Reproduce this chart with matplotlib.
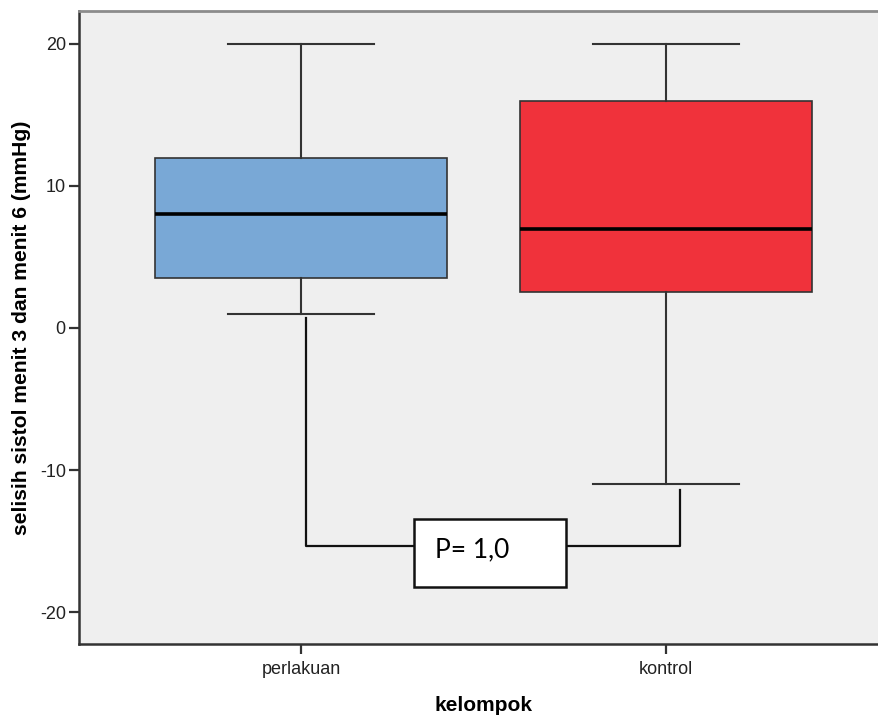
import matplotlib.pyplot as plt
from matplotlib.patches import Rectangle

# five-number summaries per group (mmHg)
groups = ['perlakuan', 'kontrol']
whis_low = [1, -11]
q1 = [3.5, 2.5]
median = [8, 7]
q3 = [12, 16]
whis_high = [20, 20]
colors = ['#79A8D6', '#F0323B']
p_text = 'P= 1,0'

stats = []
for i, g in enumerate(groups):
    stats.append({'label': g, 'whislo': whis_low[i], 'q1': q1[i], 'med': median[i],
                  'q3': q3[i], 'whishi': whis_high[i], 'fliers': []})

plt.rcParams['font.family'] = 'Liberation Sans'
plt.rcParams['axes.unicode_minus'] = False
fig = plt.figure(figsize=(8.79, 7.2), dpi=100)
# the right edge of the frame runs past the figure
ax = fig.add_axes([0.0899, 0.1056, 0.9204, 0.8791])
ax.set_facecolor('#EFEFEF')

pos = [1, 2]
bp = ax.bxp(stats, positions=pos, widths=0.8, capwidths=0.4, patch_artist=True,
            showfliers=False,
            boxprops=dict(edgecolor='#333333', linewidth=1.2),
            medianprops=dict(color='black', linewidth=2.6),
            whiskerprops=dict(color='#333333', linewidth=1.5),
            capprops=dict(color='#333333', linewidth=1.5))
for patch, c in zip(bp['boxes'], colors):
    patch.set_facecolor(c)

ax.set_xlim(0.392, 2.608)
ax.set_ylim(-22.25, 22.32)
ax.set_yticks([-20, -10, 0, 10, 20])
ax.set_xticks(pos)
ax.set_xticklabels(groups)
ax.tick_params(axis='both', labelsize=13, colors='#333333', labelcolor='#222222',
               length=7.5, width=1.6, direction='out')
ax.tick_params(axis='x', pad=5)
ax.tick_params(axis='y', pad=2)

for side in ['left', 'bottom']:
    ax.spines[side].set_color('#333333')
    ax.spines[side].set_linewidth(1.8)
ax.spines['top'].set_color('#8C8C8C')
ax.spines['top'].set_linewidth(2)
ax.spines['right'].set_visible(False)

ax.set_ylabel('selisih sistol menit 3 dan menit 6 (mmHg)', fontsize=15.2,
              fontweight='bold', labelpad=6)
ax.set_xlabel('kelompok', fontsize=15, fontweight='bold', labelpad=13)

# comparison bracket between the two groups
bracket_y = -15.35
lx = pos[0] + 0.014
rx = pos[1] + 0.038
ax.plot([lx, lx, rx, rx], [whis_low[0] - 0.3, bracket_y, bracket_y, whis_low[1] - 0.4],
        color='#111111', linewidth=1.6)
ax.add_patch(Rectangle((1.310, -18.24), 0.416, 4.79, facecolor='white',
                       edgecolor='#111111', linewidth=1.8, zorder=3))
ax.text(1.367, -15.63, p_text, family='Lato', fontsize=19, ha='left', va='center',
        color='black', zorder=4)

fig.savefig('out.png', dpi=100)
